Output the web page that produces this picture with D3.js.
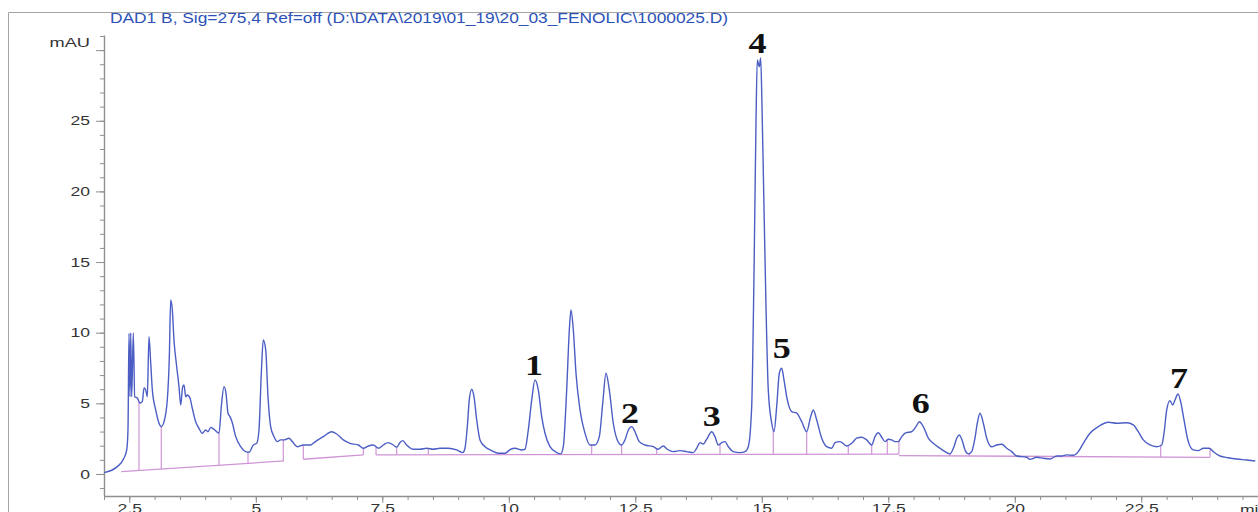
<!DOCTYPE html>
<html>
<head>
<meta charset="utf-8">
<script src="https://cdn.jsdelivr.net/npm/d3@7"></script>
<style>
  body { margin: 0; background: #fff; }
  svg { display: block; }
</style>
</head>
<body>
<svg id="chart" width="1258" height="512"></svg>
<script>
// retention time (min) and signal (mAU)
const retentionTime = [
  2.000, 2.263, 2.395, 2.449, 2.474, 2.494, 2.514, 2.528, 2.547, 2.579, 2.607, 2.658, 2.711, 2.757, 2.791, 2.824,
  2.856, 2.889, 2.923, 2.955, 3.022, 3.087, 3.132, 3.186, 3.251, 3.291, 3.318, 3.350, 3.383, 3.437, 3.482, 3.516,
  3.555, 3.581, 3.615, 3.646, 3.700, 3.745, 3.812, 3.877, 3.943, 4.010, 4.055, 4.109, 4.174, 4.273, 4.318, 4.372,
  4.411, 4.451, 4.490, 4.530, 4.603, 4.702, 4.800, 4.866, 4.951, 5.018, 5.063, 5.109, 5.148, 5.196, 5.241, 5.294,
  5.360, 5.425, 5.492, 5.557, 5.656, 5.721, 5.820, 5.939, 6.085, 6.150, 6.334, 6.500, 6.599, 6.729, 6.862, 7.026,
  7.125, 7.223, 7.322, 7.421, 7.520, 7.619, 7.717, 7.785, 7.850, 7.903, 7.982, 8.113, 8.245, 8.377, 8.508, 8.640,
  8.804, 8.970, 9.089, 9.134, 9.180, 9.219, 9.267, 9.312, 9.366, 9.431, 9.530, 9.662, 9.792, 9.925, 10.038, 10.123,
  10.255, 10.320, 10.385, 10.453, 10.518, 10.583, 10.650, 10.715, 10.814, 10.947, 11.026, 11.077, 11.144, 11.196, 11.229, 11.275,
  11.328, 11.407, 11.506, 11.605, 11.704, 11.789, 11.856, 11.921, 11.986, 12.065, 12.144, 12.231, 12.296, 12.362, 12.429, 12.494,
  12.579, 12.692, 12.856, 12.955, 13.053, 13.132, 13.251, 13.383, 13.516, 13.646, 13.713, 13.779, 13.844, 13.911, 14.010, 14.075,
  14.140, 14.208, 14.273, 14.338, 14.437, 14.569, 14.668, 14.733, 14.800, 14.846, 14.885, 14.911, 14.951, 14.978, 15.004, 15.043,
  15.083, 15.128, 15.196, 15.241, 15.294, 15.346, 15.393, 15.439, 15.504, 15.591, 15.690, 15.789, 15.887, 15.966, 16.018, 16.085,
  16.184, 16.283, 16.381, 16.447, 16.545, 16.678, 16.777, 16.875, 16.974, 17.073, 17.172, 17.237, 17.302, 17.370, 17.435, 17.500,
  17.567, 17.632, 17.698, 17.765, 17.850, 17.962, 18.047, 18.113, 18.192, 18.291, 18.389, 18.522, 18.621, 18.719, 18.798, 18.852,
  18.903, 18.957, 19.016, 19.081, 19.148, 19.213, 19.259, 19.312, 19.378, 19.445, 19.543, 19.642, 19.741, 19.840, 19.939, 20.038,
  20.235, 20.300, 20.433, 20.563, 20.696, 20.828, 20.927, 21.026, 21.156, 21.255, 21.354, 21.486, 21.650, 21.848, 22.014, 22.212,
  22.342, 22.441, 22.540, 22.672, 22.804, 22.903, 22.949, 23.002, 23.067, 23.121, 23.166, 23.225, 23.285, 23.344, 23.429, 23.528,
  23.627, 23.725, 23.844, 23.923, 24.055, 24.219, 24.385, 24.583, 24.751
];
const signalMAU = [
  0.09, 0.52, 1.13, 1.70, 3.11, 9.96, 5.47, 9.98, 5.47, 9.98, 5.47, 5.38, 5.02, 5.12, 6.09, 5.95,
  5.47, 9.72, 7.86, 5.95, 4.53, 3.59, 3.35, 3.70, 5.24, 8.30, 12.31, 11.61, 9.48, 7.59, 6.18, 4.88,
  6.18, 6.30, 5.47, 5.59, 5.36, 4.65, 3.70, 3.23, 2.88, 3.11, 2.99, 3.30, 3.16, 2.88, 4.76, 6.18,
  5.71, 4.30, 4.06, 3.70, 2.64, 1.93, 1.58, 1.54, 2.05, 2.17, 3.11, 7.13, 9.48, 8.78, 5.47, 3.35,
  2.64, 2.29, 2.41, 2.41, 2.53, 2.29, 1.93, 2.05, 2.05, 2.22, 2.64, 2.99, 2.83, 2.41, 2.17, 2.05,
  1.82, 1.98, 2.05, 1.82, 2.05, 2.22, 2.05, 1.89, 2.22, 2.36, 2.05, 1.75, 1.75, 1.82, 1.75, 1.82,
  1.82, 1.70, 1.51, 1.82, 3.35, 5.24, 6.00, 5.47, 3.82, 2.41, 1.93, 1.65, 1.47, 1.47, 1.75, 1.82,
  1.70, 1.75, 3.11, 5.24, 6.65, 5.95, 4.06, 2.88, 1.93, 1.51, 1.42, 1.93, 5.95, 10.19, 11.61, 10.19,
  7.13, 4.53, 2.88, 2.05, 2.05, 2.64, 5.00, 7.13, 5.95, 3.59, 2.41, 2.05, 2.41, 3.11, 3.35, 2.99,
  2.29, 2.05, 1.93, 1.75, 1.98, 1.75, 1.58, 1.65, 1.58, 1.51, 1.82, 2.22, 2.12, 2.46, 2.99, 2.64,
  2.05, 2.22, 2.29, 1.93, 1.58, 1.51, 1.58, 1.93, 4.76, 14.20, 24.82, 29.30, 28.83, 29.44, 26.00, 18.92,
  11.84, 5.95, 3.59, 2.99, 4.76, 7.13, 7.48, 6.65, 5.24, 4.41, 4.30, 3.70, 2.99, 4.06, 4.53, 3.82,
  2.53, 1.93, 1.82, 2.22, 2.29, 1.98, 2.17, 2.53, 2.60, 2.41, 2.05, 2.64, 2.92, 2.60, 2.29, 2.46,
  2.41, 2.29, 2.29, 2.64, 2.92, 2.99, 3.35, 3.70, 3.35, 2.53, 2.17, 1.82, 1.58, 1.42, 1.93, 2.53,
  2.76, 2.41, 1.70, 1.42, 1.58, 2.53, 3.59, 4.30, 3.59, 2.53, 1.93, 2.05, 2.10, 1.82, 1.58, 1.27,
  1.18, 1.04, 1.18, 1.11, 1.06, 1.27, 1.27, 1.35, 1.32, 1.58, 2.17, 2.88, 3.35, 3.66, 3.59, 3.63,
  3.47, 2.99, 2.41, 2.05, 1.93, 2.05, 2.88, 4.53, 5.19, 4.88, 5.24, 5.66, 5.00, 3.82, 2.29, 1.70,
  1.65, 1.82, 1.82, 1.58, 1.27, 1.15, 1.06, 0.99, 0.92
];

// integration baselines: [start min, start mAU, end min, end mAU]
const baselineSegments = [
  [2.342, 0.16, 5.557, 0.92],
  [5.939, 1.04, 7.125, 1.35],
  [7.376, 1.35, 17.710, 1.40],
  [17.710, 1.30, 23.858, 1.18]
];
// peak split / drop lines (min)
const dropTimes = [2.692, 3.132, 4.273, 4.846, 5.544, 5.939, 7.125, 7.376, 7.785, 8.409,
  11.012, 11.638, 12.231, 12.923, 14.174, 15.227, 15.887, 16.709, 17.172, 17.480, 17.710,
  18.719, 19.101, 21.091, 22.883, 23.858];

// numbered peak labels
const peakNames = ["1", "2", "3", "4", "5", "6", "7"];
const peakTimes = [10.498, 12.395, 14.010, 14.915, 15.393, 18.142, 23.245];
const peakLabelMAU = [7.01, 3.59, 3.40, 29.77, 8.19, 4.30, 6.07];

const xMajor = [2.5, 5, 7.5, 10, 12.5, 15, 17.5, 20, 22.5];
const yMajor = [0, 5, 10, 15, 20, 25];
const yLabelled = [0, 5, 10, 15, 20, 25];

const titleText = "DAD1 B, Sig=275,4 Ref=off (D:\\DATA\\2019\\01_19\\20_03_FENOLIC\\1000025.D)";

const svg = d3.select("#chart");
const axisColor = "#8f8f8f";
const font = "'Liberation Sans', Arial, sans-serif";

const x = d3.scaleLinear().domain([2, 25]).range([104, 104 + 23 * 50.6]);
const y = d3.scaleLinear().domain([-1.56, 31.07]).range([496, 35]);

// the original image is stretched sideways, so widen glyphs
function widen(sel, k) {
  sel.each(function() {
    const w = this.getComputedTextLength();
    if (w > 0) d3.select(this).attr("textLength", w * k).attr("lengthAdjust", "spacingAndGlyphs");
  });
}

// outer frame
svg.append("path")
  .attr("d", "M8.5,512 V12.5 H1258")
  .attr("fill", "none")
  .attr("stroke", "#a5a5a5")
  .attr("stroke-width", 1);

// title
svg.append("text")
  .attr("x", 110).attr("y", 23)
  .attr("font-family", font)
  .attr("font-size", 14)
  .attr("fill", "#2d52b8")
  .attr("textLength", 618)
  .attr("lengthAdjust", "spacingAndGlyphs")
  .text(titleText);

// minor ticks
const minorX = d3.range(2, 25.01, 0.5);
svg.append("g")
  .attr("transform", "translate(0,496)")
  .call(d3.axisBottom(x).tickValues(minorX).tickSize(4).tickSizeOuter(0).tickFormat(""))
  .call(g => g.select(".domain").remove());

const minorY = d3.range(-1, 31.5, 1);
svg.append("g")
  .attr("transform", "translate(104,0)")
  .call(d3.axisLeft(y).tickValues(minorY).tickSize(4).tickSizeOuter(0).tickFormat(""))
  .call(g => g.select(".domain").remove());

// major ticks + labels
const xAxis = svg.append("g")
  .attr("transform", "translate(0,496)")
  .call(d3.axisBottom(x).tickValues(xMajor).tickSize(7).tickPadding(1).tickSizeOuter(0)
    .tickFormat(d3.format("")));

const yAxis = svg.append("g")
  .attr("transform", "translate(104,0)")
  .call(d3.axisLeft(y).tickValues(yMajor.concat([30])).tickSize(8).tickPadding(6).tickSizeOuter(0)
    .tickFormat(d => yLabelled.includes(d) ? d : ""));

svg.selectAll(".tick line").attr("stroke", axisColor);
[xAxis, yAxis].forEach(g => {
  g.select(".domain").attr("stroke", axisColor).attr("stroke-width", 1.4);
  g.selectAll("text").attr("font-family", font).attr("font-size", 13).attr("fill", "#333")
    .call(widen, 1.35);
});

svg.append("text")
  .attr("x", 90).attr("y", 47)
  .attr("text-anchor", "end")
  .attr("font-family", font).attr("font-size", 13).attr("fill", "#333")
  .text("mAU")
  .call(widen, 1.4);

svg.append("text")
  .attr("x", 1240).attr("y", 514)
  .attr("font-family", font).attr("font-size", 13).attr("fill", "#333")
  .text("min")
  .call(widen, 1.35);

// baselines and drop lines
const pink = "#cf95d6";
svg.append("g").selectAll("line")
  .data(baselineSegments)
  .join("line")
  .attr("x1", d => x(d[0])).attr("y1", d => y(d[1]))
  .attr("x2", d => x(d[2])).attr("y2", d => y(d[3]))
  .attr("stroke", pink).attr("stroke-width", 1.3);

function baseAt(t) {
  const s = baselineSegments.find(b => t >= b[0] - 1e-6 && t <= b[2] + 1e-6);
  if (!s) return null;
  return s[1] + (s[3] - s[1]) * (t - s[0]) / (s[2] - s[0]);
}
function signalAt(t) {
  const i = d3.bisectLeft(retentionTime, t);
  if (i <= 0) return signalMAU[0];
  const t0 = retentionTime[i - 1], t1 = retentionTime[i];
  return signalMAU[i - 1] + (signalMAU[i] - signalMAU[i - 1]) * (t - t0) / (t1 - t0);
}

svg.append("g").selectAll("line")
  .data(dropTimes.filter(t => baseAt(t) !== null))
  .join("line")
  .attr("x1", d => x(d)).attr("x2", d => x(d))
  .attr("y1", d => y(baseAt(d))).attr("y2", d => y(signalAt(d)))
  .attr("stroke", pink).attr("stroke-width", 1.2);

// signal trace
const trace = retentionTime.map((t, i) => [t, signalMAU[i]]);
svg.append("path")
  .datum(trace)
  .attr("fill", "none")
  .attr("stroke", "#4c5ec4")
  .attr("stroke-width", 1.4)
  .attr("stroke-linejoin", "round")
  .attr("d", d3.line().x(d => x(d[0])).y(d => y(d[1])).curve(d3.curveMonotoneX));

// peak numbers
svg.append("g").selectAll("text")
  .data(peakNames)
  .join("text")
  .attr("x", (d, i) => x(peakTimes[i]))
  .attr("y", (d, i) => y(peakLabelMAU[i]))
  .attr("text-anchor", "middle")
  .attr("font-family", "'Liberation Serif', 'Times New Roman', serif")
  .attr("font-weight", "bold")
  .attr("font-size", 30)
  .attr("fill", "#111")
  .text(d => d)
  .call(widen, 1.2);
</script>
</body>
</html>
